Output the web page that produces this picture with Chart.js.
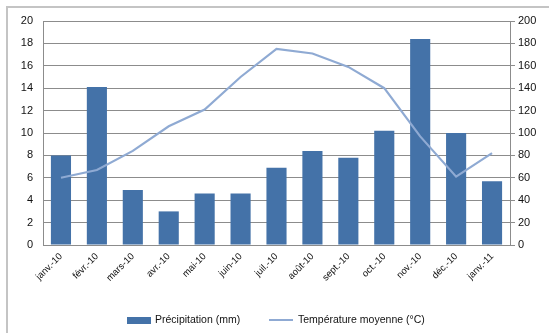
<!DOCTYPE html>
<html lang="fr">
<head>
<meta charset="utf-8">
<title>Précipitation et température moyenne</title>
<script src="https://cdn.jsdelivr.net/npm/chart.js@4"></script>
<style>
  html, body { margin: 0; padding: 0; background: #ffffff; }
  #wrap { width: 549px; height: 333px; position: relative; }
</style>
</head>
<body>
<div id="wrap"><canvas id="chart" width="549" height="333"></canvas></div>
<script>
// Monthly data, janv. 2010 – janv. 2011
const months = ['janv.-10', 'févr.-10', 'mars-10', 'avr.-10', 'mai-10', 'juin-10', 'juil.-10',
                'août-10', 'sept.-10', 'oct.-10', 'nov.-10', 'déc.-10', 'janv.-11'];
const precipitation = [80, 141, 49, 30, 46, 46, 69, 84, 78, 102, 184, 100, 57];   // mm, right axis
const temperature = [6.0, 6.7, 8.4, 10.6, 12.1, 15.0, 17.5, 17.1, 15.9, 14.0, 9.7, 6.1, 8.2]; // °C, left axis
const leftTicks = [0, 2, 4, 6, 8, 10, 12, 14, 16, 18, 20];
const rightTicks = [0, 20, 40, 60, 80, 100, 120, 140, 160, 180, 200];

const BAR_COLOR = '#4472a8';
const LINE_COLOR = '#8faad3';
const GRID_COLOR = '#8c8c8c';
const TEXT_COLOR = '#111111';
const TICK_FONT = { family: 'Liberation Sans', size: 11 };

// White background and the outer frame of the chart
const framePlugin = {
  id: 'frame',
  beforeDraw(chart) {
    const ctx = chart.ctx;
    ctx.save();
    ctx.fillStyle = '#ffffff';
    ctx.fillRect(0, 0, chart.width, chart.height);
    ctx.strokeStyle = '#c4c4c4';
    ctx.lineWidth = 2;
    ctx.beginPath();
    ctx.moveTo(7, chart.height);
    ctx.lineTo(7, 7);
    ctx.lineTo(chart.width, 7);
    ctx.stroke();
    ctx.restore();
  }
};

// Legend row under the axis: a filled box for the bars, a short stroke for the line
const legendPlugin = {
  id: 'bottomLegend',
  afterDraw(chart) {
    const ctx = chart.ctx;
    const ds = chart.data.datasets;
    const y = 320;
    ctx.save();
    ctx.font = '10.5px "Liberation Sans"';
    ctx.textBaseline = 'middle';
    // bar item
    ctx.fillStyle = ds[0].backgroundColor;
    ctx.fillRect(127, y - 3, 24, 7);
    ctx.fillStyle = TEXT_COLOR;
    ctx.fillText(ds[0].label, 155, y);
    // line item
    ctx.strokeStyle = ds[1].borderColor;
    ctx.lineWidth = 2;
    ctx.beginPath();
    ctx.moveTo(269, y);
    ctx.lineTo(293, y);
    ctx.stroke();
    ctx.fillText(ds[1].label, 298, y);
    ctx.restore();
  }
};

new Chart(document.getElementById('chart'), {
  data: {
    labels: months,
    datasets: [
      {
        type: 'bar',
        label: 'Précipitation (mm)',
        data: precipitation,
        yAxisID: 'y1',
        backgroundColor: BAR_COLOR,
        borderWidth: 0,
        barPercentage: 0.56,
        categoryPercentage: 1.0,
        order: 2
      },
      {
        type: 'line',
        label: 'Température moyenne (°C)',
        data: temperature,
        yAxisID: 'y',
        borderColor: LINE_COLOR,
        backgroundColor: LINE_COLOR,
        borderWidth: 2.2,
        pointRadius: 0,
        tension: 0,
        order: 1
      }
    ]
  },
  options: {
    responsive: false,
    animation: false,
    devicePixelRatio: 1,
    layout: { padding: { left: 0, right: 0, top: 21, bottom: 48 } },
    plugins: {
      legend: { display: false },
      tooltip: { enabled: false }
    },
    scales: {
      x: {
        grid: { display: false, drawTicks: false },
        border: { display: true, color: GRID_COLOR, width: 1 },
        ticks: {
          color: TEXT_COLOR,
          font: { family: 'Liberation Sans', size: 9.5 },
          minRotation: 45,
          maxRotation: 45,
          autoSkip: false,
          padding: 6
        },
        afterFit(scale) { scale.height = 40; }
      },
      y: {
        position: 'left',
        min: 0,
        max: 20,
        afterBuildTicks(scale) { scale.ticks = leftTicks.map(v => ({ value: v })); },
        grid: { color: GRID_COLOR, lineWidth: 1, drawTicks: false },
        border: { display: true, color: GRID_COLOR },
        ticks: { color: TEXT_COLOR, font: TICK_FONT, padding: 10 },
        afterFit(scale) { scale.width = 43; }
      },
      y1: {
        position: 'right',
        min: 0,
        max: 200,
        afterBuildTicks(scale) { scale.ticks = rightTicks.map(v => ({ value: v })); },
        grid: { drawOnChartArea: false, color: GRID_COLOR, tickLength: 5 },
        border: { display: true, color: GRID_COLOR },
        ticks: { color: TEXT_COLOR, font: TICK_FONT, padding: 3 },
        afterFit(scale) { scale.width = 39; }
      }
    }
  },
  plugins: [framePlugin, legendPlugin]
});
</script>
</body>
</html>
